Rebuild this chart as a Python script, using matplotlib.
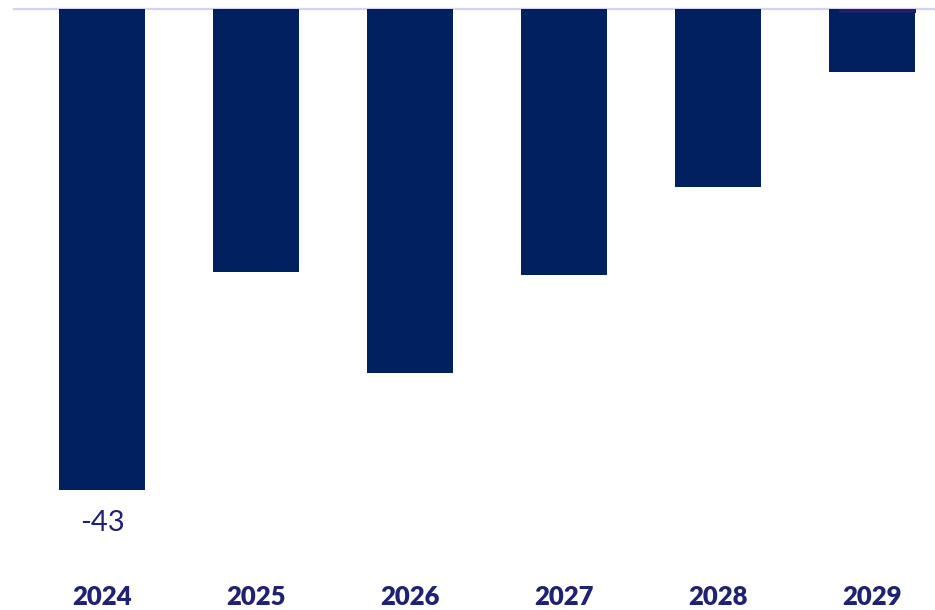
import matplotlib
matplotlib.use("Agg")
import matplotlib.pyplot as plt

years = ["2024", "2025", "2026", "2027", "2028", "2029"]
values = [-43, -23.5, -32.5, -23.8, -15.9, -5.7]
# small positive cap drawn on top of the last bar
cap_value = 0.4

BAR = "#002060"
CAP = "#221e6e"
TEXT = "#1f2270"
LINE = "#d4d4f2"

fig = plt.figure(figsize=(9.35, 6.1), dpi=100)
ax = fig.add_axes([0, 0, 1, 1])
ax.set_xlim(-0.662, 5.409)
ax.set_ylim(-53.7, 0.76)
ax.axis("off")

x = list(range(len(years)))
ax.bar(x, values, width=0.56, color=BAR, zorder=2)
ax.bar(x[-1] + 0.033, cap_value, bottom=-cap_value, width=0.50,
       color=CAP, zorder=3)
ax.plot([-0.571, 5.409], [0, 0], color=LINE, lw=1.6, zorder=1)

for xi, y in zip(x, years):
    ax.text(xi, -52.5, y, ha="center", va="center", fontsize=18.5,
            fontweight="heavy", color=TEXT, family=["Lato", "DejaVu Sans"])

ax.text(x[0], values[0] - 2.9, f"{values[0]:.0f}", ha="center", va="center",
        fontsize=21, fontweight="normal", color=TEXT,
        family=["Lato", "DejaVu Sans"])

fig.savefig("out.png", dpi=100)
